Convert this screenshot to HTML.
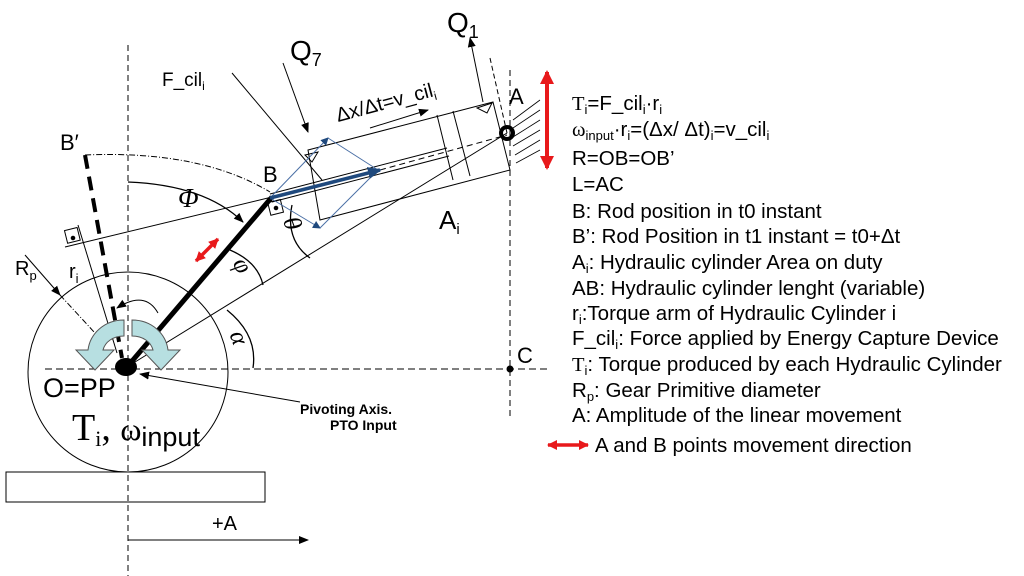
<!DOCTYPE html>
<html><head><meta charset="utf-8"><style>
body{margin:0;background:#fff;}
svg{display:block;font-family:"Liberation Sans",sans-serif;}
</style></head><body>
<svg width="1024" height="576" viewBox="0 0 1024 576" xmlns="http://www.w3.org/2000/svg">
<defs>
<marker id="ah" markerWidth="10" markerHeight="10" refX="9" refY="5" orient="auto" markerUnits="userSpaceOnUse"><path d="M0,1 L10,5 L0,9 Z" fill="#000"/></marker>
<marker id="ahb" markerWidth="14" markerHeight="12" refX="12" refY="6" orient="auto" markerUnits="userSpaceOnUse"><path d="M0,0 L14,6 L0,12 Z" fill="#1f497d"/></marker>
<marker id="ahb2" markerWidth="8" markerHeight="8" refX="7" refY="4" orient="auto" markerUnits="userSpaceOnUse"><path d="M0,0 L8,4 L0,8 Z" fill="#1f497d"/></marker>
<marker id="rh" markerWidth="14" markerHeight="14" refX="12" refY="7" orient="auto-start-reverse" markerUnits="userSpaceOnUse"><path d="M0,0 L14,7 L0,14 Z" fill="#e8191b"/></marker>
<marker id="rhs" markerWidth="10" markerHeight="10" refX="9" refY="5" orient="auto-start-reverse" markerUnits="userSpaceOnUse"><path d="M0,0 L10,5 L0,10 Z" fill="#e8191b"/></marker>
</defs>
<g stroke="#000" fill="none" stroke-width="1">
<line x1="128" y1="45" x2="128" y2="576" stroke-dasharray="6,4"/>
<line x1="45" y1="369" x2="548" y2="369" stroke-dasharray="7,4"/>
<line x1="510" y1="70" x2="510" y2="420" stroke-dasharray="6,4"/>
<circle cx="510" cy="369" r="3" fill="#000"/>
<circle cx="128" cy="372" r="100"/>
<rect x="6" y="472" width="259" height="30"/>
<line x1="128" y1="540" x2="308" y2="540" marker-end="url(#ah)"/>
<line x1="65" y1="247" x2="272" y2="197"/>
<rect x="66" y="229" width="13" height="13" transform="rotate(-14 72 236)"/>
<circle cx="73" cy="238" r="1.8" fill="#000"/>
<line x1="78" y1="225" x2="117" y2="353"/>
<rect x="269" y="201" width="13" height="13" transform="rotate(-14 275 207)"/>
<circle cx="276" cy="208" r="1.8" fill="#000"/>
<line x1="135" y1="362" x2="507" y2="133"/>
<line x1="85" y1="155" x2="122" y2="358" stroke-width="4" stroke-dasharray="14,8"/>
<path d="M85,155 Q200,150 270,192" stroke-dasharray="6,2,1,2"/>
<path d="M128,182 Q205,185 243,222" marker-end="url(#ah)" stroke-width="1.3"/>
<path d="M230,250 Q258,262 263,285" stroke-width="1.3"/>
<path d="M292,205 Q285,240 310,258" stroke-width="1.3"/>
<path d="M227,310 Q258,335 253,368" stroke-width="1.3"/>
<path d="M158,313 Q145,290 117,308" marker-end="url(#ah)"/>
<line x1="60" y1="295" x2="95" y2="333" stroke-dasharray="6,2,1,2"/>
<line x1="25" y1="255" x2="60" y2="295" marker-end="url(#ah)"/>
<line x1="127" y1="367" x2="272" y2="197" stroke-width="5"/>
<path d="M308,150 L493,102 L510,170 L320,220 Z"/>
<line x1="437" y1="115" x2="453" y2="180"/>
<line x1="453" y1="111" x2="470" y2="176"/>
<line x1="270" y1="194" x2="447" y2="148"/>
<line x1="272" y1="202" x2="449" y2="156"/>
<line x1="380" y1="170" x2="507" y2="135" stroke-dasharray="6,4"/>
<line x1="490" y1="58" x2="507" y2="133" stroke-dasharray="5,3"/>
<path d="M477,108 L492,103 L487,113 Z"/>
<path d="M305,155 L318,152 L312,162 Z"/>
<g stroke-width="0.8">
<line x1="513" y1="120" x2="540" y2="100"/><line x1="513" y1="128" x2="540" y2="110"/>
<line x1="513" y1="137" x2="540" y2="120"/><line x1="513" y1="146" x2="540" y2="130"/>
<line x1="515" y1="155" x2="540" y2="140"/><line x1="516" y1="163" x2="540" y2="150"/>
</g>
<circle cx="507" cy="133" r="6" stroke-width="4"/>
<line x1="483" y1="102" x2="470" y2="38" marker-end="url(#ah)"/>
<line x1="283" y1="63" x2="308" y2="132" marker-end="url(#ah)"/>
<line x1="232" y1="73" x2="322" y2="180"/>
<line x1="370" y1="128" x2="428" y2="110" marker-end="url(#ah)"/>
</g>
<g stroke="#4a6fa5" fill="none" stroke-width="1">
<line x1="270" y1="198" x2="328" y2="138" marker-end="url(#ahb2)"/>
<line x1="328" y1="138" x2="378" y2="170"/>
<line x1="270" y1="198" x2="320" y2="228" marker-end="url(#ahb2)"/>
<line x1="320" y1="228" x2="378" y2="170"/>
</g>
<line x1="270" y1="198" x2="380" y2="170" stroke="#1f497d" stroke-width="3.5" marker-end="url(#ahb)"/>
<line x1="547" y1="72" x2="547" y2="168" stroke="#e8191b" stroke-width="4" marker-end="url(#rh)" marker-start="url(#rh)"/>
<line x1="196" y1="261" x2="218" y2="239" stroke="#e8191b" stroke-width="3.5" marker-end="url(#rhs)" marker-start="url(#rhs)"/>
<line x1="548" y1="445" x2="588" y2="445" stroke="#e8191b" stroke-width="3.5" marker-end="url(#rhs)" marker-start="url(#rhs)"/>
<g fill="#b7dfe1" stroke="#555" stroke-width="1">
<path d="M124,320 C104,320 90,334 88,350 L76,350 L95,370 L114,350 L103,350 C105,342 113,336 124,336 Z"/>
<path d="M132,320 C152,320 166,334 168,350 L180,350 L161,370 L142,350 L153,350 C151,342 143,336 132,336 Z"/>
</g>
<ellipse cx="126" cy="367" rx="11" ry="9" fill="#000"/>
<line x1="300" y1="402" x2="140" y2="374" stroke="#000" marker-end="url(#ah)"/>
<g fill="#000">
<text x="447" y="32" font-size="28">Q<tspan font-size="18" dy="6">1</tspan></text>
<text x="290" y="60" font-size="28">Q<tspan font-size="18" dy="6">7</tspan></text>
<text x="162" y="86" font-size="19">F_cil<tspan font-size="12" dy="4">i</tspan></text>
<text x="338" y="122" font-size="20" transform="rotate(-15 338 122)">Δx/Δt=v_cil<tspan font-size="12" dy="4">i</tspan></text>
<text x="509" y="104" font-size="22">A</text>
<text x="60" y="150" font-size="22">B′</text>
<text x="263" y="182" font-size="22">B</text>
<text x="178" y="207" font-size="27" font-family="Liberation Serif" font-style="italic">Φ</text>
<text x="15" y="275" font-size="20">R<tspan font-size="13" dy="5">p</tspan></text>
<text x="69" y="278" font-size="20">r<tspan font-size="13" dy="5">i</tspan></text>
<text x="234" y="276" font-size="25" font-family="Liberation Serif" font-style="italic" transform="rotate(60 244 268)">φ</text>
<text x="283" y="236" font-size="25" font-family="Liberation Serif" font-style="italic" transform="rotate(70 294 228)">θ</text>
<text x="231" y="348" font-size="25" font-family="Liberation Serif" font-style="italic" transform="rotate(70 240 340)">α</text>
<text x="439" y="229" font-size="26">A<tspan font-size="15" dy="5">i</tspan></text>
<text x="517" y="363" font-size="22">C</text>
<text x="43" y="397" font-size="27">O=PP</text>
<text x="72" y="440" font-size="38" font-family="Liberation Serif">T<tspan font-size="22" dy="6">i</tspan><tspan dy="-6">, </tspan><tspan font-size="32">ω</tspan><tspan font-size="27" font-family="Liberation Sans" dy="6">input</tspan></text>
<text x="300" y="414" font-size="14" font-weight="bold">Pivoting Axis.</text>
<text x="330" y="430" font-size="14" font-weight="bold">PTO Input</text>
<text x="212" y="530" font-size="20">+A</text>
</g>
<g fill="#000" font-size="20.5">
<text x="572" y="110"><tspan font-family="Liberation Serif">T</tspan><tspan font-size="13" dy="4">i</tspan><tspan dy="-4">=F_cil</tspan><tspan font-size="13" dy="4">i</tspan><tspan dy="-4">·r</tspan><tspan font-size="13" dy="4">i</tspan></text>
<text x="572" y="136"><tspan font-family="Liberation Serif">ω</tspan><tspan font-size="13" dy="4">input</tspan><tspan dy="-4">·r</tspan><tspan font-size="13" dy="4">i</tspan><tspan dy="-4">=(Δx/ Δt)</tspan><tspan font-size="13" dy="4">i</tspan><tspan dy="-4">=v_cil</tspan><tspan font-size="13" dy="4">i</tspan></text>
<text x="572" y="165">R=OB=OB’</text>
<text x="572" y="191">L=AC</text>
<text x="572" y="218">B: Rod position in t0 instant</text>
<text x="572" y="243">B’: Rod Position in t1 instant = t0+Δt</text>
<text x="572" y="269">A<tspan font-size="13" dy="4">i</tspan><tspan dy="-4">: Hydraulic cylinder Area on duty</tspan></text>
<text x="572" y="295">AB: Hydraulic cylinder lenght (variable)</text>
<text x="572" y="320">r<tspan font-size="13" dy="4">i</tspan><tspan dy="-4">:Torque arm of Hydraulic Cylinder i</tspan></text>
<text x="572" y="345">F_cil<tspan font-size="13" dy="4">i</tspan><tspan dy="-4">: Force applied by Energy Capture Device</tspan></text>
<text x="572" y="371"><tspan font-family="Liberation Serif">T</tspan><tspan font-size="13" dy="4">i</tspan><tspan dy="-4">: Torque produced by each Hydraulic Cylinder</tspan></text>
<text x="572" y="397">R<tspan font-size="13" dy="4">p</tspan><tspan dy="-4">: Gear Primitive diameter</tspan></text>
<text x="572" y="422">A: Amplitude of the linear movement</text>
<text x="595" y="452">A and B points movement direction</text>
</g>
</svg>
</body></html>
